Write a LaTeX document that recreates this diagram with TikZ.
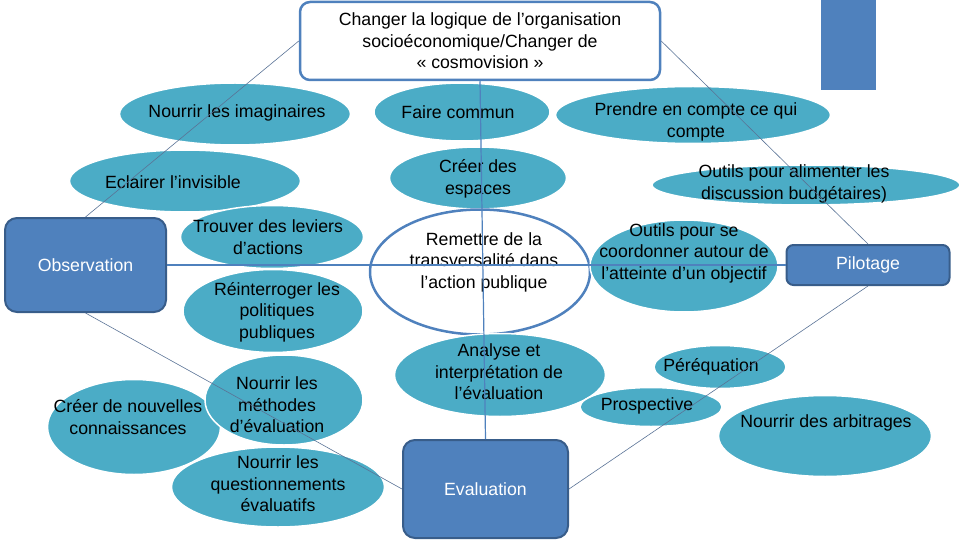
\documentclass[tikz,border=0pt]{standalone}
\usepackage{fontspec}
\setmainfont{Liberation Sans}
\usetikzlibrary{shapes.geometric,positioning}

\definecolor{aqua}{RGB}{75,172,198}
\definecolor{steel}{RGB}{79,129,189}
\definecolor{steeldark}{RGB}{56,93,138}
\definecolor{linkcol}{RGB}{90,115,150}

\begin{document}
\begin{tikzpicture}[%
    x=1pt, y=-1pt,
    bubble/.style={ellipse, fill=aqua, draw=white, line width=1.5pt, inner sep=0pt},
    txt/.style={align=center, inner sep=0pt, font=\fontsize{17.7}{21.5}\selectfont},
    box/.style={rectangle, rounded corners=12pt, fill=steel, draw=steeldark,
        line width=2pt, text=white, font=\fontsize{17.7}{21.5}\selectfont},
    goalbox/.style={rectangle, rounded corners=10pt, fill=white, draw=steel,
        line width=2.5pt, align=center, font=\fontsize{17.7}{21.5}\selectfont},
    link/.style={draw=linkcol, line width=0.6pt},
    axis/.style={draw=steel, line width=1.2pt}
    ]

    \useasboundingbox (0,0) rectangle (960,540);

    % boxes
    \node[goalbox, minimum width=360pt, minimum height=78pt] (goal) at (480,41)
        {Changer la logique de l’organisation\\socioéconomique/Changer de\\« cosmovision »};
    \node[fill=steel, minimum width=55pt, minimum height=90pt, inner sep=0pt] (tab) at (848.5,45) {};
    \node[box, minimum width=161pt, minimum height=94pt] (obs) at (85.5,265) {Observation};
    \node[box, rounded corners=7pt, minimum width=163pt, minimum height=40pt] (pilot) at (868,265) {Pilotage};
    \node[box, minimum width=165pt, minimum height=98pt] (eval) at (485.5,489) {Evaluation};

    % bubbles
    \node[bubble, minimum width=231pt, minimum height=62pt] (imag) at (235,114) {};
    \node[txt] (imagtxt) at (237,113) {Nourrir les imaginaires};
    \node[bubble, minimum width=176pt, minimum height=58pt] (commun) at (462,112) {};
    \node[txt] (communtxt) at (458,112) {Faire commun};
    \node[bubble, minimum width=275pt, minimum height=57pt] (compte) at (693,115) {};
    \node[txt] (comptetxt) at (696,122) {Prendre en compte ce qui\\compte};
    \node[bubble, minimum width=231pt, minimum height=62pt] (eclair) at (185,181) {};
    \node[txt] (eclairtxt) at (173,182) {Eclairer l’invisible};
    \node[bubble, minimum width=177pt, minimum height=62pt] (espaces) at (478,178) {};
    \node[txt] (espacestxt) at (478,179) {Créer des\\espaces};
    \node[bubble, minimum width=308pt, minimum height=40pt] (budget) at (806,185) {};
    \node[txt] (budgettxt) at (794,184) {Outils pour alimenter les\\discussion budgétaires)};
    \node[bubble, minimum width=183pt, minimum height=63pt] (leviers) at (272,237) {};
    \node[txt] (levierstxt) at (268,237) {Trouver des leviers\\d’actions};
    \node[ellipse, fill=white, draw=steel, line width=2.5pt, inner sep=0pt,
        minimum width=220pt, minimum height=125pt] (transv) at (480,272) {};
    \node[txt] (transvtxt) at (484,262) {Remettre de la\\transversalité dans\\l’action publique};
    \node[bubble, minimum width=188pt, minimum height=92pt] (coord) at (684,266) {};
    \node[txt] (coordtxt) at (684,253) {Outils pour se\\coordonner autour de\\l’atteinte d’un objectif};
    \node[bubble, minimum width=180pt, minimum height=83pt] (reint) at (273,311) {};
    \node[txt] (reinttxt) at (277,312) {Réinterroger les\\politiques\\publiques};
    \node[bubble, minimum width=211pt, minimum height=83pt] (analyse) at (500,375) {};
    \node[txt] (analysetxt) at (499,372) {Analyse et\\interprétation de\\l’évaluation};
    \node[bubble, minimum width=132pt, minimum height=43pt] (perequ) at (720,367) {};
    \node[txt] (perequtxt) at (711,367) {Péréquation};
    \node[bubble, minimum width=142pt, minimum height=39pt] (prosp) at (651,407) {};
    \node[txt] (prosptxt) at (647,406) {Prospective};
    \node[bubble, minimum width=213pt, minimum height=81pt] (arbitr) at (825,436) {};
    \node[txt] (arbitrtxt) at (826,423) {Nourrir des arbitrages};
    \node[bubble, minimum width=173pt, minimum height=95pt] (connais) at (134,427) {};
    \node[txt] (connaistxt) at (128,417) {Créer de nouvelles\\connaissances};
    \node[bubble, minimum width=158pt, minimum height=90pt] (methodes) at (284,400) {};
    \node[txt] (methodestxt) at (277,405) {Nourrir les\\méthodes\\d’évaluation};
    \node[bubble, minimum width=213pt, minimum height=80pt] (question) at (278,487) {};
    \node[txt] (questiontxt) at (278,484) {Nourrir les\\questionnements\\évaluatifs};

    % connectors
    \path[link] (goal.west) edge (obs.north);
    \path[link] (goal.east) edge (pilot.north);
    \path[link] (obs.south) edge (eval.west);
    \path[link] (eval.east) edge (pilot.south);
    \path[axis] (obs.east) edge (pilot.west);
    \path[axis] (goal.south) edge (eval.north);

\end{tikzpicture}
\end{document}
